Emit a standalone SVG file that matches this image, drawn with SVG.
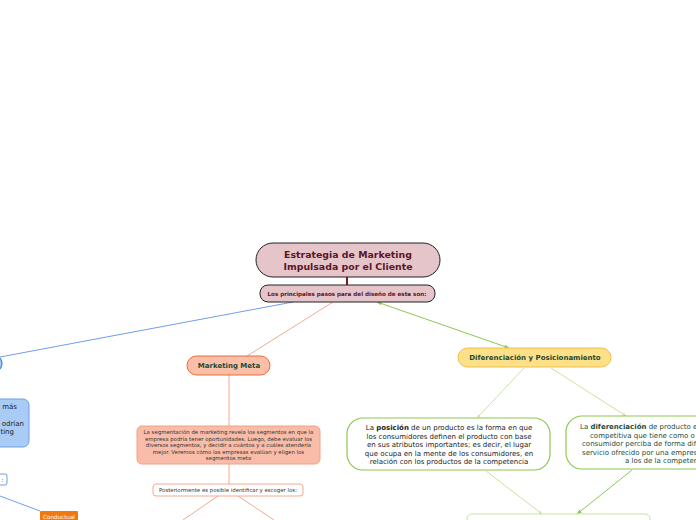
<svg xmlns="http://www.w3.org/2000/svg" width="696" height="520" viewBox="0 0 696 520">
<defs>
<style>
text{font-family:"DejaVu Sans",Verdana,sans-serif;}
.t1{font-size:9.4px;font-weight:bold;fill:#5a1526;text-anchor:middle;}
.t2{font-size:5.6px;font-weight:bold;fill:#5a1526;text-anchor:middle;}
.tb{font-size:7px;font-weight:bold;fill:#1f4a2e;text-anchor:middle;}
.ts{font-size:5.4px;fill:#333;text-anchor:middle;}
.tp{font-size:7px;fill:#222;text-anchor:middle;}
.td{font-size:7px;fill:#234d3a;}
.tl{font-size:7px;fill:#222;}
</style>
<marker id="ag" viewBox="0 0 10 10" refX="9" refY="5" markerWidth="5" markerHeight="5" orient="auto-start-reverse"><path d="M0,1 L10,5 L0,9 z" fill="#8cc850"/></marker>
<marker id="alg" viewBox="0 0 10 10" refX="9" refY="5" markerWidth="4" markerHeight="4" orient="auto"><path d="M0,1 L10,5 L0,9 z" fill="#c8e3a0"/></marker>
</defs>
<g id="connectors" fill="none">
<line x1="347" y1="277" x2="347" y2="285" stroke="#7a1a2a" stroke-width="2"/>
<line x1="293" y1="302" x2="0" y2="357" stroke="#6fa0e8" stroke-width="1"/>
<line x1="0" y1="496" x2="40" y2="511" stroke="#6fa0e8" stroke-width="1"/>
<line x1="333" y1="302" x2="247" y2="356" stroke="#f7a88e" stroke-width="1"/>
<line x1="229" y1="375" x2="229" y2="426" stroke="#f7a88e" stroke-width="1"/>
<line x1="229" y1="464" x2="229" y2="484" stroke="#f7a88e" stroke-width="1"/>
<line x1="218" y1="496" x2="183" y2="520" stroke="#f7a88e" stroke-width="1"/>
<line x1="238" y1="496" x2="274" y2="520" stroke="#f7a88e" stroke-width="1"/>
<line x1="377" y1="302" x2="509" y2="348" stroke="#8cc850" stroke-width="1" marker-start="url(#ag)" marker-end="url(#ag)"/>
<line x1="524" y1="368" x2="477" y2="418" stroke="#c8e3a0" stroke-width="1" marker-end="url(#alg)"/>
<line x1="551" y1="368" x2="626" y2="416" stroke="#c8e3a0" stroke-width="1" marker-end="url(#alg)"/>
<line x1="486" y1="471" x2="542" y2="514" stroke="#c8e3a0" stroke-width="1" marker-end="url(#alg)"/>
<line x1="632" y1="470" x2="577" y2="514" stroke="#8cc850" stroke-width="1" marker-end="url(#ag)"/>
</g>
<g id="n-main">
<rect x="256" y="243" width="184" height="34" rx="17" fill="#e6c5ca" stroke="#222" stroke-width="1"/>
<text class="t1" x="348" y="258">Estrategia de Marketing</text>
<text class="t1" x="348" y="270">Impulsada por el Cliente</text>
</g>
<g id="n-pasos">
<rect x="260" y="285" width="175" height="17" rx="8" fill="#e6c5ca" stroke="#222" stroke-width="1"/>
<text class="t2" x="347" y="295.5">Los principales pasos para del diseño de esta son:</text>
</g>
<g id="n-left">
<rect x="-40" y="355" width="42" height="17" rx="8.5" fill="#a9ccf7" stroke="#3d80e0" stroke-width="1.2"/>
</g>
<g id="n-leftbox">
<rect x="-160" y="399" width="189" height="48" rx="6" fill="#a9ccf7" stroke="#6aa0e8" stroke-width="1"/>
<text class="tl" x="17" y="409" text-anchor="end">más</text>
<text class="tl" x="24" y="426" text-anchor="end">odrían</text>
<text class="tl" x="14" y="434" text-anchor="end">ting</text>
</g>
<g id="n-leftsmall">
<rect x="-80" y="474" width="87" height="11" rx="2" fill="#fff" stroke="#6aa0e8" stroke-width="1"/>
<text class="ts" x="2.5" y="481.5">:</text>
</g>
<g id="n-conductual">
<rect x="40" y="511" width="38" height="14" rx="1" fill="#f07a10"/>
<text x="59" y="518.5" style="font-size:5.6px;fill:#fff;text-anchor:middle">Conductual</text>
</g>
<g id="n-meta">
<rect x="187" y="356" width="83" height="19" rx="9.5" fill="#f9bfa8" stroke="#f0683a" stroke-width="1"/>
<text class="tb" x="229" y="368">Marketing Meta</text>
</g>
<g id="n-seg">
<rect x="137" y="426" width="183" height="38" rx="5" fill="#f9bca8" stroke="#f5a088" stroke-width="1"/>
<text class="ts" x="228.5" y="434">La segmentación de marketing revela los segmentos en que la</text>
<text class="ts" x="228.5" y="440.5">empresa podría tener oportunidades. Luego, debe evaluar los</text>
<text class="ts" x="228.5" y="447">diversos segmentos, y decidir a cuántos y a cuáles atendería</text>
<text class="ts" x="228.5" y="453.5">mejor. Veremos cómo las empresas evalúan y eligen los</text>
<text class="ts" x="228.5" y="460">segmentos meta</text>
</g>
<g id="n-post">
<rect x="153" y="484" width="150" height="12" rx="3" fill="#fff" stroke="#f7a88e" stroke-width="1"/>
<text class="ts" x="228" y="492">Posteriormente es posible identificar y escoger los:</text>
</g>
<g id="n-dif">
<rect x="458" y="348" width="153" height="19" rx="9.5" fill="#fde08a" stroke="#f5c040" stroke-width="1"/>
<text class="tb" x="535" y="360">Diferenciación y Posicionamiento</text>
</g>
<g id="n-posicion">
<rect x="347" y="418" width="203" height="52" rx="16" fill="#fff" stroke="#8cc850" stroke-width="1.2"/>
<text class="tp" x="449" y="430">La <tspan font-weight="bold">posición</tspan> de un producto es la forma en que</text>
<text class="tp" x="449" y="438.5">los consumidores definen el producto con base</text>
<text class="tp" x="449" y="447">en sus atributos importantes; es decir, el lugar</text>
<text class="tp" x="449" y="455.5">que ocupa en la mente de los consumidores, en</text>
<text class="tp" x="449" y="464">relación con los productos de la competencia</text>
</g>
<g id="n-diferenciacion">
<rect x="566" y="416" width="180" height="53" rx="16" fill="#fff" stroke="#8cc850" stroke-width="1.2"/>
<text class="td" x="580" y="429">La <tspan font-weight="bold">diferenciación</tspan> de producto e</text>
<text class="td" x="590" y="437.5">competitiva que tiene como o</text>
<text class="td" x="582" y="446">consumidor perciba de forma dif</text>
<text class="td" x="582" y="454.5">servicio ofrecido por una empres</text>
<text class="td" x="625" y="463">a los de la competer</text>
</g>
<g id="n-bottom">
<rect x="467" y="514" width="183" height="20" rx="5" fill="#fff" stroke="#c8e3a0" stroke-width="1"/>
</g>
</svg>
